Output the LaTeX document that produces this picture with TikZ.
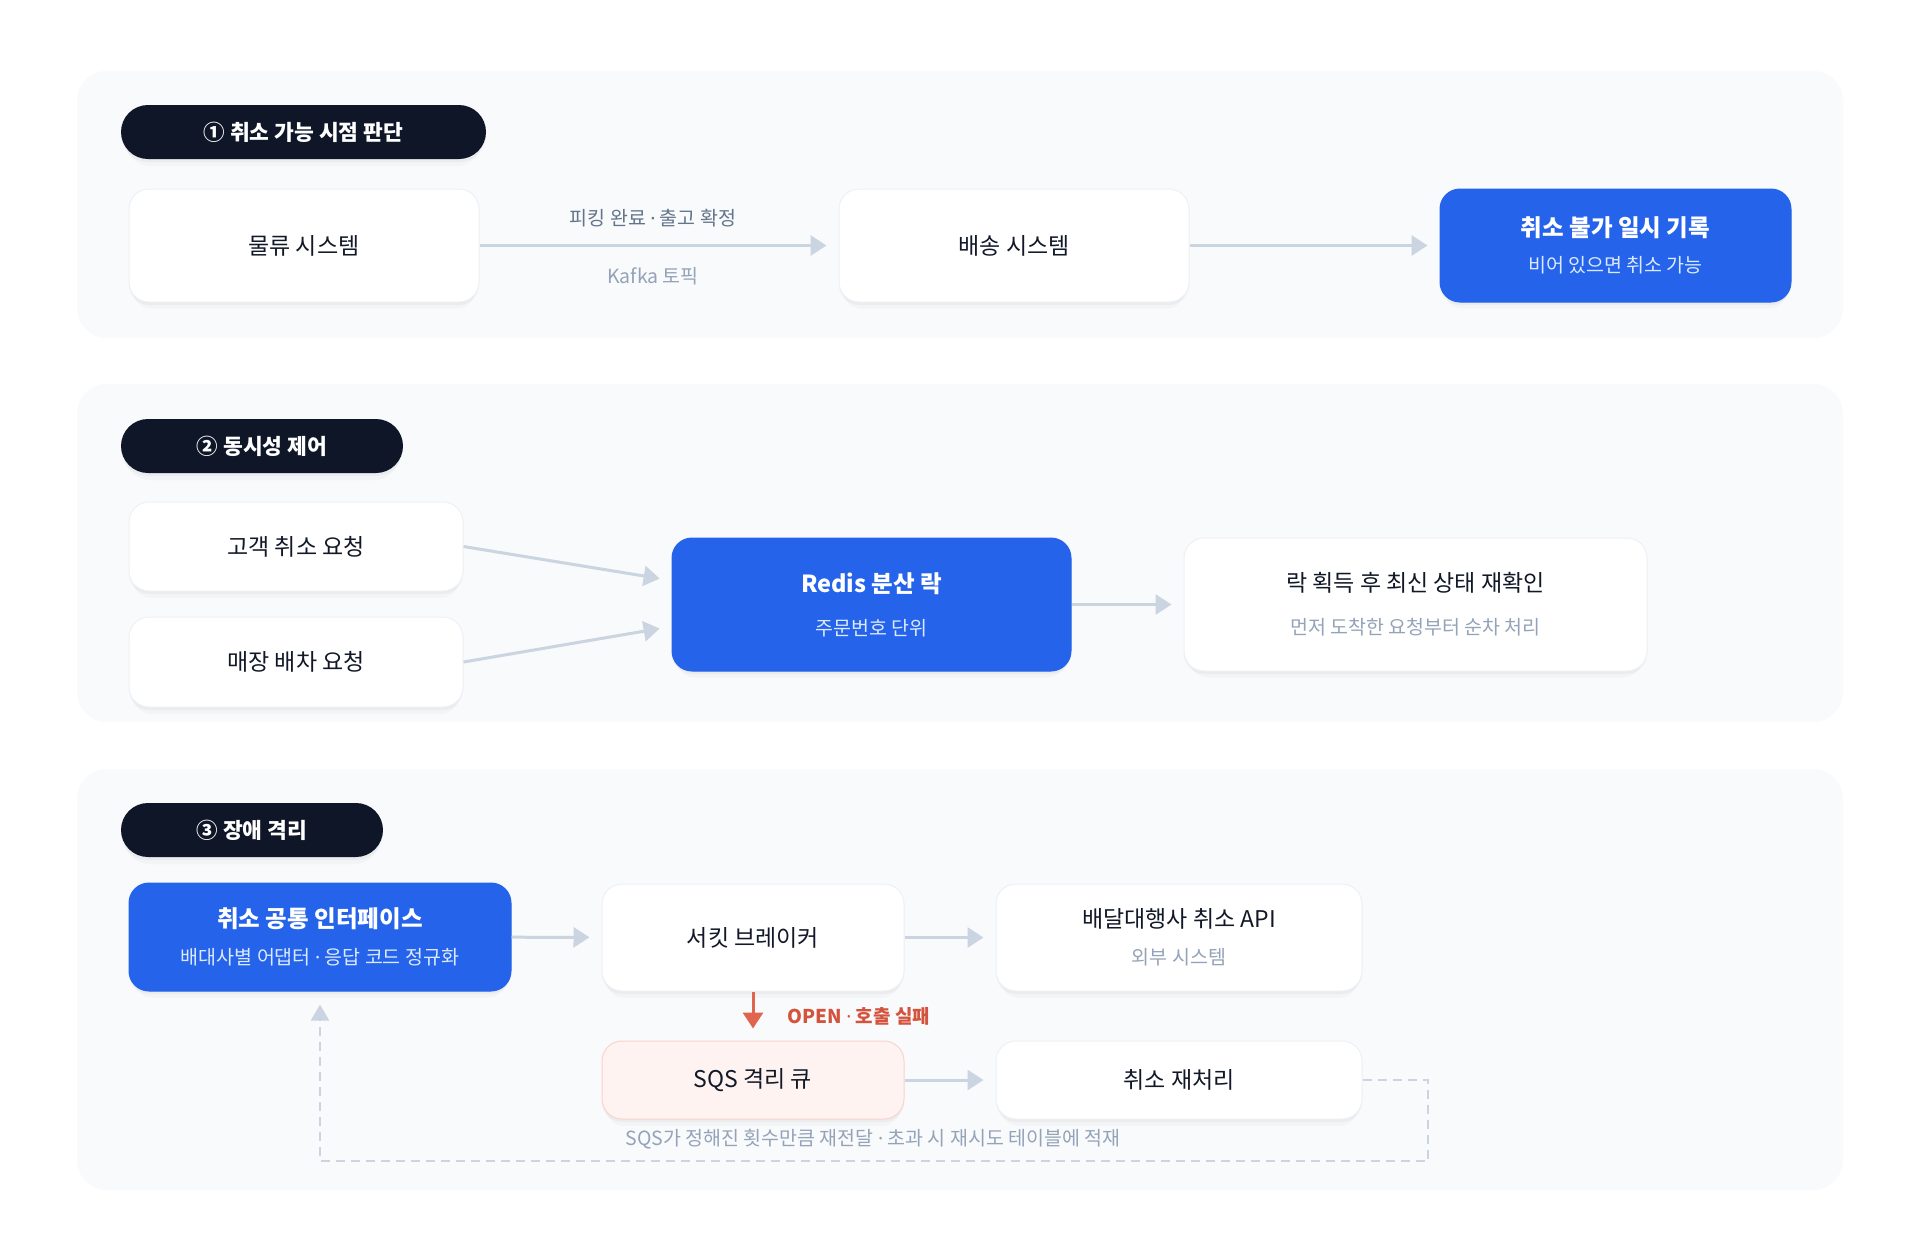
\documentclass[tikz,border=0pt]{standalone}
\usepackage{fontspec}
\setmainfont{Noto Sans CJK KR}
\newfontfamily\dotfont{Noto Sans}
\usetikzlibrary{arrows.meta,shadows}

\definecolor{panelbg}{HTML}{F8FAFC}
\definecolor{pilldark}{HTML}{0E1628}
\definecolor{accent}{HTML}{2563EB}
\definecolor{edgegray}{HTML}{CBD5E1}
\definecolor{inktext}{HTML}{111827}
\definecolor{mutedtext}{HTML}{94A3B8}
\definecolor{labeltext}{HTML}{64748B}
\definecolor{subblue}{HTML}{DBEAFE}
\definecolor{alertred}{HTML}{E0654F}
\definecolor{alerttext}{HTML}{D4533D}
\definecolor{alertfill}{HTML}{FEF3F1}
\definecolor{alertline}{HTML}{FAD3CC}
\definecolor{boxline}{HTML}{EDF0F4}

\newcommand{\subline}[2]{{\fontsize{19.5}{36}\selectfont\color{#1}#2}}
\newcommand{\mdot}{{\dotfont ·}}

\begin{document}
\begin{tikzpicture}[x=1pt,y=-1pt,
    panel/.style={fill=panelbg, rounded corners=30pt},
    softshadow/.style={drop shadow={shadow xshift=0pt, shadow yshift=-3pt, opacity=0.03, fill=black},
        drop shadow={shadow xshift=0pt, shadow yshift=-8pt, shadow scale=0.98, opacity=0.025, fill=black}},
    pill/.style={fill=pilldark, rounded corners=27pt, text=white, minimum height=54pt, inner sep=0pt,
        font=\fontsize{21.5}{26}\selectfont\bfseries, softshadow},
    card/.style={fill=white, draw=boxline, line width=1pt, rounded corners=20pt, text=inktext,
        align=center, inner sep=0pt, font=\fontsize{23}{36}\selectfont, softshadow},
    keycard/.style={card, fill=accent, draw=accent, text=white, font=\fontsize{23.5}{36}\selectfont},
    alertcard/.style={card, fill=alertfill, draw=alertline},
    flow/.style={draw=edgegray, line width=3pt, -{Triangle[length=16pt,width=20pt]}, shorten >=12pt},
    failflow/.style={draw=alertred, line width=3pt, -{Triangle[length=16pt,width=20pt]}, shorten >=12pt},
    retryloop/.style={draw=edgegray, line width=2.5pt, dash pattern=on 9pt off 6pt,
        -{Triangle[length=16pt,width=18pt]}, shorten >=13pt},
    edgelabel/.style={inner sep=0pt, font=\fontsize{19.5}{24}\selectfont},
]
    % Page and panels
    \fill[white] (0,0) rectangle (1920,1235);
    \useasboundingbox (0,0) rectangle (1920,1235);
    \fill[panel] (77,71) rectangle (1843,338);
    \fill[panel] (77,384) rectangle (1843,722);
    \fill[panel] (77,769) rectangle (1843,1190);

    % Section 1: when cancel is possible
    \node[pill, minimum width=365pt] (pillA) at (303.5,132) {① 취소 가능 시점 판단};
    \node[card, minimum width=350pt, minimum height=113pt] (logistics) at (304,245.5) {물류 시스템};
    \node[card, minimum width=350pt, minimum height=113pt] (delivery) at (1014,245.5) {배송 시스템};
    \node[keycard, minimum width=351pt, minimum height=113pt] (blocklog) at (1615.5,245.5)
        {{\bfseries 취소 불가 일시 기록}\\\subline{subblue}{비어 있으면 취소 가능}};

    \draw[flow] (logistics) -- (delivery)
        node[edgelabel, midway, xshift=-6pt, yshift=27pt, text=labeltext] {피킹 완료 \mdot{} 출고 확정}
        node[edgelabel, midway, xshift=-6pt, yshift=-31pt, text=mutedtext] {Kafka 토픽};
    \draw[flow] (delivery) -- (blocklog);

    % Section 2: concurrency control
    \node[pill, minimum width=282pt] (pillB) at (262,446) {② 동시성 제어};
    \node[card, minimum width=334pt, minimum height=89pt] (custreq) at (296,546.5) {고객 취소 요청};
    \node[card, minimum width=334pt, minimum height=90pt] (storereq) at (296,662) {매장 배차 요청};
    \node[keycard, minimum width=399pt, minimum height=133pt] (redislock) at (871.5,604.5)
        {{\bfseries Redis 분산 락}\\[7pt]\subline{subblue}{주문번호 단위}};
    \node[card, minimum width=463pt, minimum height=133pt] (recheck) at (1415.5,604.5)
        {락 획득 후 최신 상태 재확인\\[7pt]\subline{mutedtext}{먼저 도착한 요청부터 순차 처리}};

    \draw[flow] (custreq.east) -- ([yshift=24pt]redislock.west);
    \draw[flow] (storereq.east) -- ([yshift=-22pt]redislock.west);
    \draw[flow] (redislock) -- (recheck);

    % Section 3: failure isolation
    \node[pill, minimum width=262pt] (pillC) at (252,830) {③ 장애 격리};
    \node[keycard, minimum width=382pt, minimum height=108pt] (cancelapi) at (320,937)
        {{\bfseries 취소 공통 인터페이스}\\[1pt]\subline{subblue}{배대사별 어댑터 \mdot{} 응답 코드 정규화}};
    \node[card, minimum width=302pt, minimum height=107pt] (breaker) at (753,937.5) {서킷 브레이커};
    \node[card, minimum width=366pt, minimum height=107pt] (vendorapi) at (1179,937.5)
        {배달대행사 취소 API\\[1pt]\subline{mutedtext}{외부 시스템}};
    \node[alertcard, minimum width=302pt, minimum height=78pt] (sqsqueue) at (753,1080) {SQS 격리 큐};
    \node[card, minimum width=366pt, minimum height=78pt] (retry) at (1179,1080) {취소 재처리};
    \node[edgelabel, text=mutedtext] (retrynote) at (873,1139)
        {SQS가 정해진 횟수만큼 재전달 \mdot{} 초과 시 재시도 테이블에 적재};

    \draw[flow] (cancelapi) -- (breaker);
    \draw[flow] (breaker) -- (vendorapi);
    \draw[flow] (sqsqueue) -- (retry);
    \draw[failflow] (breaker) -- (sqsqueue)
        node[edgelabel, midway, anchor=west, xshift=33pt, text=alerttext, font=\fontsize{19}{24}\selectfont\bfseries] {OPEN \mdot{} 호출 실패};

    % Retry loop back to the interface
    \coordinate (loopturn) at (1428,1161);
    \draw[retryloop] (retry.east) -| (loopturn) -| (cancelapi.south);

\end{tikzpicture}
\end{document}
